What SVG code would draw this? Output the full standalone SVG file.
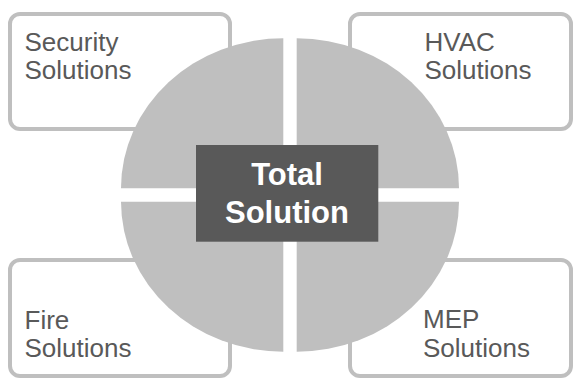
<svg xmlns="http://www.w3.org/2000/svg" width="578" height="383" viewBox="0 0 578 383">
<style>
.box{fill:#fff;stroke:#bfbfbf;stroke-width:4}
.lbl{font-family:"Liberation Sans",Arial,sans-serif;font-size:26px;fill:#595959}
.q{fill:#bfbfbf}
.ctr{font-family:"Liberation Sans",Arial,sans-serif;font-size:31px;font-weight:bold;fill:#fff;text-anchor:middle}
</style>
<rect width="578" height="383" fill="#fff"/>
<g id="security">
<rect class="box" x="10" y="14" width="220" height="115" rx="10"/>
<text class="lbl" x="24.5" y="50.7">Security</text>
<text class="lbl" x="24.5" y="79.3">Solutions</text>
</g>
<g id="hvac">
<rect class="box" x="350" y="14" width="221" height="115" rx="10"/>
<text class="lbl" x="424.5" y="50.7">HVAC</text>
<text class="lbl" x="424.5" y="79.3">Solutions</text>
</g>
<g id="fire">
<rect class="box" x="10" y="260" width="220" height="116" rx="10"/>
<text class="lbl" x="24.5" y="329">Fire</text>
<text class="lbl" x="24.5" y="357">Solutions</text>
</g>
<g id="mep">
<rect class="box" x="350" y="260" width="221" height="116" rx="10"/>
<text class="lbl" x="423" y="328.3">MEP</text>
<text class="lbl" x="423" y="356.7">Solutions</text>
</g>
<g id="circle">
<path class="q" d="M283.3,188.3 H121 A162.3,150 0 0 1 283.3,38.3 Z"/>
<path class="q" d="M296.7,188.3 V38.3 A162.3,150 0 0 1 459,188.3 Z"/>
<path class="q" d="M283.3,201.7 V351.7 A162.3,150 0 0 1 121,201.7 Z"/>
<path class="q" d="M296.7,201.7 H459 A162.3,150 0 0 1 296.7,351.7 Z"/>
</g>
<g id="total">
<rect x="196" y="145" width="182.3" height="96.7" fill="#595959"/>
<text class="ctr" x="287" y="185">Total</text>
<text class="ctr" x="287" y="222.7">Solution</text>
</g>
<g id="connectors"/>
</svg>
